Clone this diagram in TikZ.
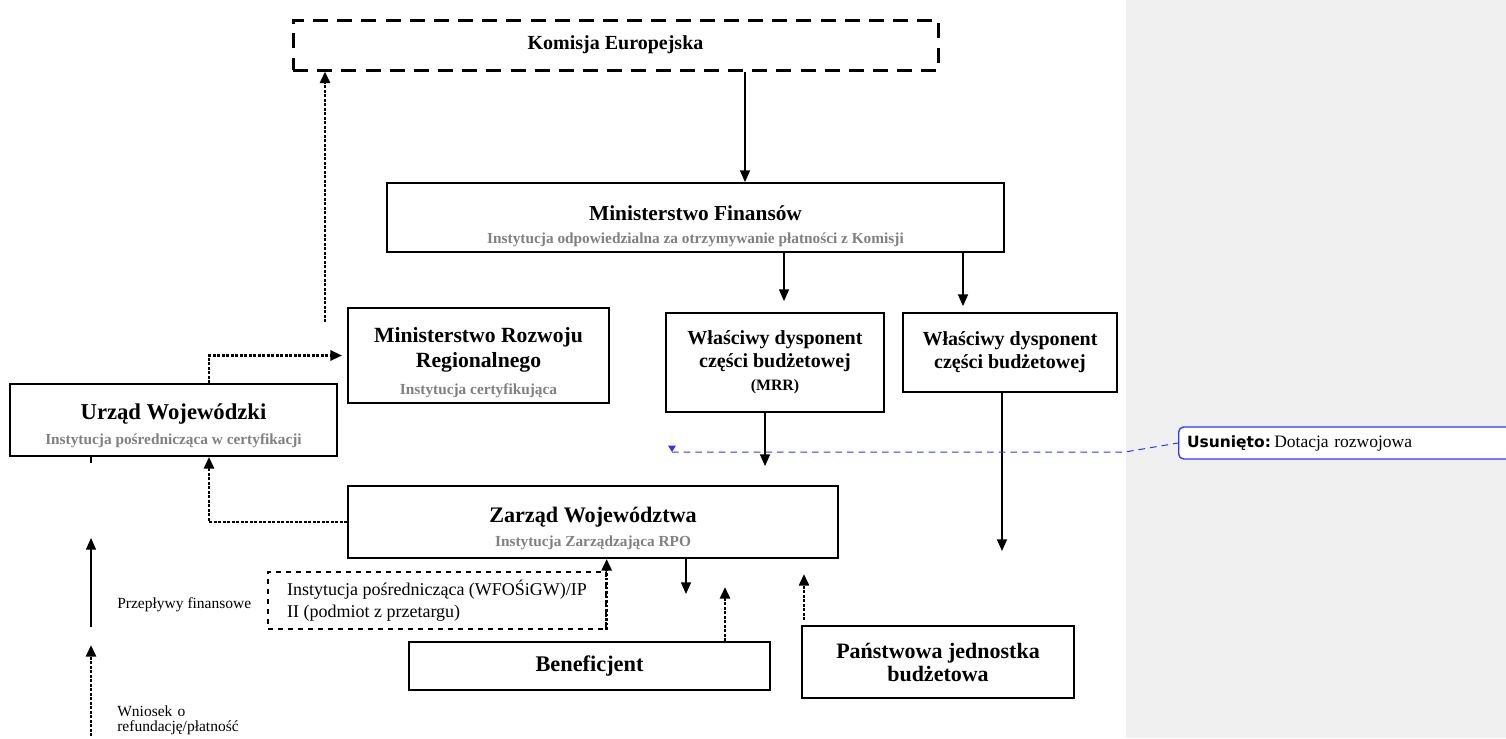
\documentclass[tikz,border=0pt]{standalone}
\usepackage{fontspec}
\setmainfont{Liberation Serif}
\newfontfamily\notefont{DejaVu Sans}
\usepackage{tikz}
\usetikzlibrary{arrows.meta}
\definecolor{szary}{HTML}{808080}
\definecolor{panel}{HTML}{F0F0F0}
\definecolor{zmiana}{HTML}{3333FF}

\begin{document}
\begin{tikzpicture}[
            x=0.6pt, y=-0.6pt,
            box/.style={
                draw,
                line width=1.1pt,
                align=center,
                inner sep=0pt,
                font=\fontsize{13}{14}\selectfont\bfseries
            },
            tytul/.style={inner sep=0pt, align=center, font=\fontsize{13}{15}\selectfont\bfseries},
            podtytul/.style={inner sep=0pt, text=szary, font=\fontsize{9.2}{11}\selectfont\bfseries},
            flow/.style={line width=0.8pt, -{Triangle[length=7pt,width=6pt]}},
            wniosek/.style={line width=1.6pt, dash pattern=on 1.6pt off 1.1pt,
                -{Triangle[length=7pt,width=6pt]}},
            legenda/.style={anchor=west, inner sep=0pt, align=left,
                font=\fontsize{9.3}{9}\selectfont}
        ]
        \useasboundingbox (0,0) rectangle (1506,738);
        \fill[panel] (1126,0) rectangle (1506,738);

        % instytucje
        \node[box, line width=1.8pt, dash pattern=on 9pt off 5.5pt, font=\fontsize{12}{14}\selectfont\bfseries,
            minimum width=387pt, minimum height=30pt] (ke) at (615.5,45) {Komisja Europejska};

        \node[box, minimum width=370.2pt, minimum height=41.4pt] (mf) at (695.5,217.5) {};
        \node[tytul, font=\fontsize{12.8}{15}\selectfont\bfseries] (mf-t) at (695.5,213) {Ministerstwo Finansów};
        \node[podtytul] (mf-p) at (695.5,240) {Instytucja odpowiedzialna za otrzymywanie płatności z Komisji};

        \node[box, minimum width=156.6pt, minimum height=57pt] (mrr) at (478.5,355.5) {};
        \node[tytul] (mrr-t) at (478.5,350) {Ministerstwo Rozwoju\\ Regionalnego};
        \node[podtytul] (mrr-p) at (478.5,391) {Instytucja certyfikująca};

        \node[box, minimum width=130.8pt, minimum height=59.4pt, font=\fontsize{12}{13.8}\selectfont\bfseries]
            (wd1) at (775,362.5) {Właściwy dysponent\\ części budżetowej\\ {\fontsize{9.5}{12}\selectfont(MRR)}};
        \node[box, minimum width=128.4pt, minimum height=47.4pt, font=\fontsize{12}{13.8}\selectfont\bfseries]
            (wd2) at (1010,352.5) {Właściwy dysponent\\ części budżetowej};

        \node[box, minimum width=196.2pt, minimum height=43.2pt] (uw) at (173.5,420) {};
        \node[tytul, font=\fontsize{13.6}{15}\selectfont\bfseries] (uw-t) at (173.5,414) {Urząd Wojewódzki};
        \node[podtytul] (uw-p) at (173.5,441) {Instytucja pośrednicząca w certyfikacji};

        \node[box, minimum width=294pt, minimum height=43.2pt] (zw) at (593,522) {};
        \node[tytul, font=\fontsize{13.3}{15}\selectfont\bfseries] (zw-t) at (593,517) {Zarząd Województwa};
        \node[podtytul] (zw-p) at (593,543) {Instytucja Zarządzająca RPO};

        \node[box, line width=0.8pt, dashed, align=left, minimum width=202.8pt, minimum height=34.2pt,
            font=\fontsize{10.8}{13.2}\selectfont] (ip) at (437,600.5)
            {Instytucja pośrednicząca (WFOŚiGW)/IP\\ II (podmiot z przetargu)};
        \node[box, minimum width=216.6pt, minimum height=28.8pt, font=\fontsize{13.4}{15}\selectfont\bfseries]
            (ben) at (589.5,666) {Beneficjent};
        \node[box, minimum width=163.2pt, minimum height=43.2pt, font=\fontsize{13.2}{13.8}\selectfont\bfseries]
            (pjb) at (938,662) {Państwowa jednostka\\ budżetowa};

        % wolne konce
        \coordinate (start) at (325,322);
        \coordinate (wd2end) at (1002,551);
        \coordinate (zwdol) at (686,594);
        \coordinate (bengora) at (725,587);
        \coordinate (pjbgora) at (804,574);

        % przeplywy
        \draw[flow] (ke.south -| 745,0) -- (mf.north -| 745,0);
        \draw[flow, shorten >=6.6pt] (mf.south -| 784,0) -- (wd1.north -| 784,0);
        \draw[flow, shorten >=3.6pt] (mf.south -| 963,0) -- (wd2.north -| 963,0);
        \draw[flow, shorten >=11.4pt] (wd1.south -| 765,0) -- (zw.north -| 765,0);
        \draw[flow] (wd2.south -| 1002,0) -- (wd2end);
        \draw[flow] (zw.south -| 686,0) -- (zwdol);
        \draw[line width=0.8pt] (uw.south -| 91,0) -- ++(0,6);

        % wnioski
        \draw[wniosek] (start) -- (ke.south -| 325,0);
        \draw[wniosek, shorten >=3pt] (uw.north -| 209,0) |- (mrr.west);
        \draw[wniosek] (zw.west) -| (uw.south -| 209,0);
        \draw[wniosek] (ip.south east) -- (zw.south -| ip.east);
        \draw[wniosek] (ben.north -| 725,0) -- (bengora);
        \draw[wniosek, shorten <=3pt] (pjb.north -| 804,0) -- (pjbgora);

        % legenda
        \coordinate (leg1) at (91,627);
        \coordinate (leg1end) at (91,538);
        \coordinate (leg2) at (91,736);
        \coordinate (leg2end) at (91,645);
        \draw[flow] (leg1) -- (leg1end);
        \draw[wniosek] (leg2) -- (leg2end);
        \node[legenda] (legflow) at (117,605) {Przepływy finansowe};
        \node[legenda, text width=120pt] (legwn) at (117,720) {Wniosek o\\ refundację/płatność};

        % komentarz
        \node[draw=zmiana, line width=0.8pt, rounded corners=3pt, fill=white, anchor=west,
            minimum width=205pt, minimum height=19.2pt, inner xsep=5pt, align=left,
            text width=195pt] (uwaga) at (1178,443)
            {{\notefont\bfseries\fontsize{9.3}{10}\selectfont Usunięto:}\hspace{2pt}{\fontsize{10.5}{12}\selectfont Dotacja rozwojowa}};
        \fill[zmiana] (668,445.5) -- (676,445.5) -- (672,452) -- cycle;
        \draw[zmiana, line width=0.6pt, dash pattern=on 4pt off 3pt] (672,452) -- (1125,452) -- (uwaga.west);
        \end{tikzpicture}
\end{document}
